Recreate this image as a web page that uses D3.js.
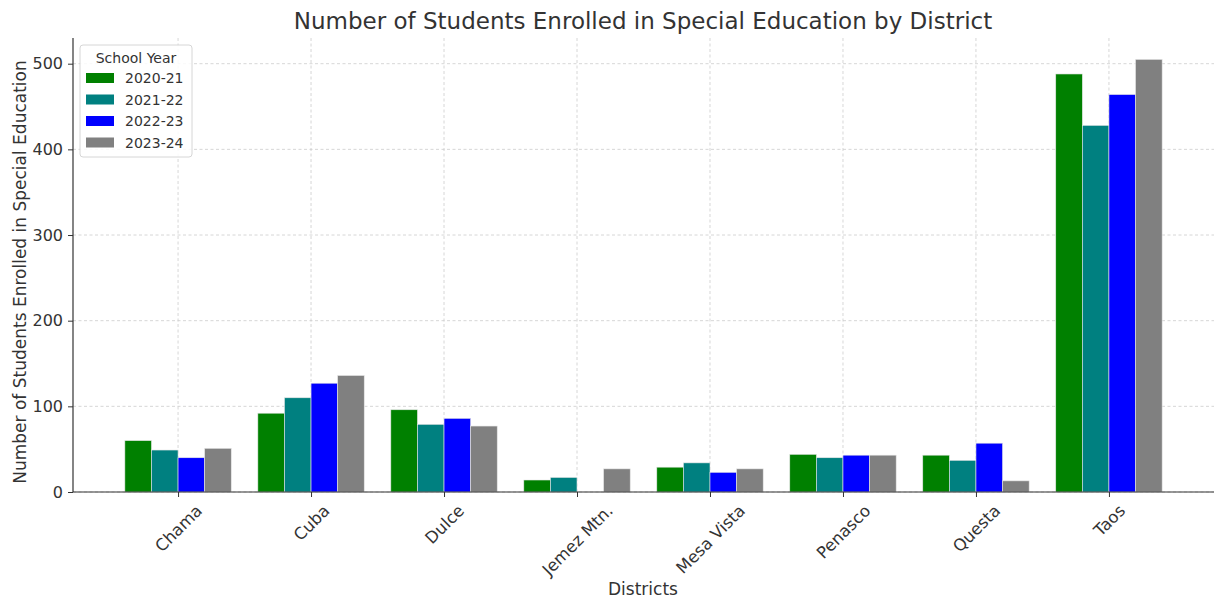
<!DOCTYPE html>
<html>
<head>
<meta charset="utf-8">
<script src="https://cdn.jsdelivr.net/npm/d3@7"></script>
<style>
  body { margin: 0; background: #fff; }
  text { font-family: "DejaVu Sans", sans-serif; fill: #333; }
</style>
</head>
<body>
<script>
const W = 1214, H = 598;

// data
const districts = ['Chama', 'Cuba', 'Dulce', 'Jemez Mtn.', 'Mesa Vista', 'Penasco', 'Questa', 'Taos'];
const years = ['2020-21', '2021-22', '2022-23', '2023-24'];
const sy2020 = [60, 92, 96, 14, 29, 44, 43, 488];
const sy2021 = [49, 110, 79, 17, 34, 40, 37, 428];
const sy2022 = [40, 127, 86, 0, 23, 43, 57, 464];
const sy2023 = [51, 136, 77, 27, 27, 43, 13, 505];
const colors = ['#008000', '#008080', '#0000ff', '#808080'];
const yTicks = [0, 100, 200, 300, 400, 500];

const series = [sy2020, sy2021, sy2022, sy2023];

const pLeft = 73, pRight = 1214, pTop = 38, pBottom = 492;

const svg = d3.select('body').append('svg')
    .attr('width', W)
    .attr('height', H);

// x is a linear scale in category units, like matplotlib
const x = d3.scaleLinear().domain([-0.79, 7.79]).range([pLeft, pRight]);
const y = d3.scaleLinear().domain([0, 530]).range([pBottom, pTop]);
const bw = 0.2;

// grid
svg.append('g').selectAll('line')
    .data(yTicks).enter().append('line')
    .attr('x1', pLeft).attr('x2', pRight)
    .attr('y1', d => y(d)).attr('y2', d => y(d))
    .attr('stroke', '#cccccc').attr('stroke-width', 0.8)
    .attr('stroke-dasharray', '3,2.5');
svg.append('g').selectAll('line')
    .data(districts).enter().append('line')
    .attr('x1', (d, i) => x(i)).attr('x2', (d, i) => x(i))
    .attr('y1', pTop).attr('y2', pBottom)
    .attr('stroke', '#cccccc').attr('stroke-width', 0.8)
    .attr('stroke-dasharray', '3,2.5');

// bars
series.forEach((vals, s) => {
    svg.append('g').selectAll('rect')
        .data(vals).enter().append('rect')
        .attr('x', (d, i) => x(i + (s - 2) * bw))
        .attr('width', x(bw) - x(0))
        .attr('y', d => y(d))
        .attr('height', d => pBottom - y(d))
        .attr('fill', colors[s])
        .attr('stroke', d => d > 0 ? '#e6e6e6' : 'none')
        .attr('stroke-width', 0.6);
});

// axes
const yAxis = svg.append('g')
    .attr('transform', `translate(${pLeft},0)`)
    .call(d3.axisLeft(y).tickValues(yTicks).tickSize(5).tickPadding(5));
const xAxis = svg.append('g')
    .attr('transform', `translate(0,${pBottom})`)
    .call(d3.axisBottom(x).tickValues(d3.range(districts.length))
        .tickFormat(i => districts[i]).tickSize(5).tickPadding(6));

[yAxis, xAxis].forEach(ax => {
    ax.select('.domain').attr('stroke', '#333').attr('stroke-width', 1.2);
    ax.selectAll('.tick line').attr('stroke', '#333').attr('stroke-width', 1);
    ax.selectAll('.tick text').style('font-family', '"DejaVu Sans", sans-serif')
        .style('font-size', '16px').attr('fill', '#333');
});
yAxis.select('.domain').attr('d', `M0,${pBottom}V${pTop}`);
xAxis.select('.domain').attr('d', `M${pLeft},0H${pRight}`);

// rotated labels, centred under the tick like ha='center'
xAxis.selectAll('.tick text')
    .style('font-size', '16.5px')
    .attr('text-anchor', 'middle')
    .attr('dy', '0.35em')
    .attr('x', 0).attr('y', 0)
    .attr('transform', function() {
        const L = this.getComputedTextLength();
        const h = 16;
        const cy = 10 + (L + h) * 0.7071 / 2;
        return `translate(0,${cy}) rotate(-45)`;
    });

// titles
svg.append('text')
    .attr('x', 643).attr('y', 29)
    .attr('text-anchor', 'middle')
    .style('font-size', '23px')
    .text('Number of Students Enrolled in Special Education by District');

svg.append('text')
    .attr('x', 643).attr('y', 595)
    .attr('text-anchor', 'middle')
    .style('font-size', '17px')
    .text('Districts');

svg.append('text')
    .attr('transform', `translate(26,${(pTop + pBottom) / 2 + 7}) rotate(-90)`)
    .attr('text-anchor', 'middle')
    .style('font-size', '17px')
    .text('Number of Students Enrolled in Special Education');

// legend
const lg = svg.append('g').attr('transform', 'translate(80,45)');
lg.append('rect')
    .attr('width', 112).attr('height', 112).attr('rx', 3)
    .attr('fill', '#fff').attr('fill-opacity', 0.85)
    .attr('stroke', '#d6d6d6');
lg.append('text')
    .attr('x', 56).attr('y', 18)
    .attr('text-anchor', 'middle')
    .style('font-size', '14px')
    .text('School Year');
years.forEach((yr, i) => {
    const row = lg.append('g').attr('transform', `translate(6,${28 + i * 21.5})`);
    row.append('rect').attr('width', 28).attr('height', 10).attr('fill', colors[i]);
    row.append('text').attr('x', 39).attr('y', 10)
        .style('font-size', '14px').text(yr);
});
</script>
</body>
</html>
